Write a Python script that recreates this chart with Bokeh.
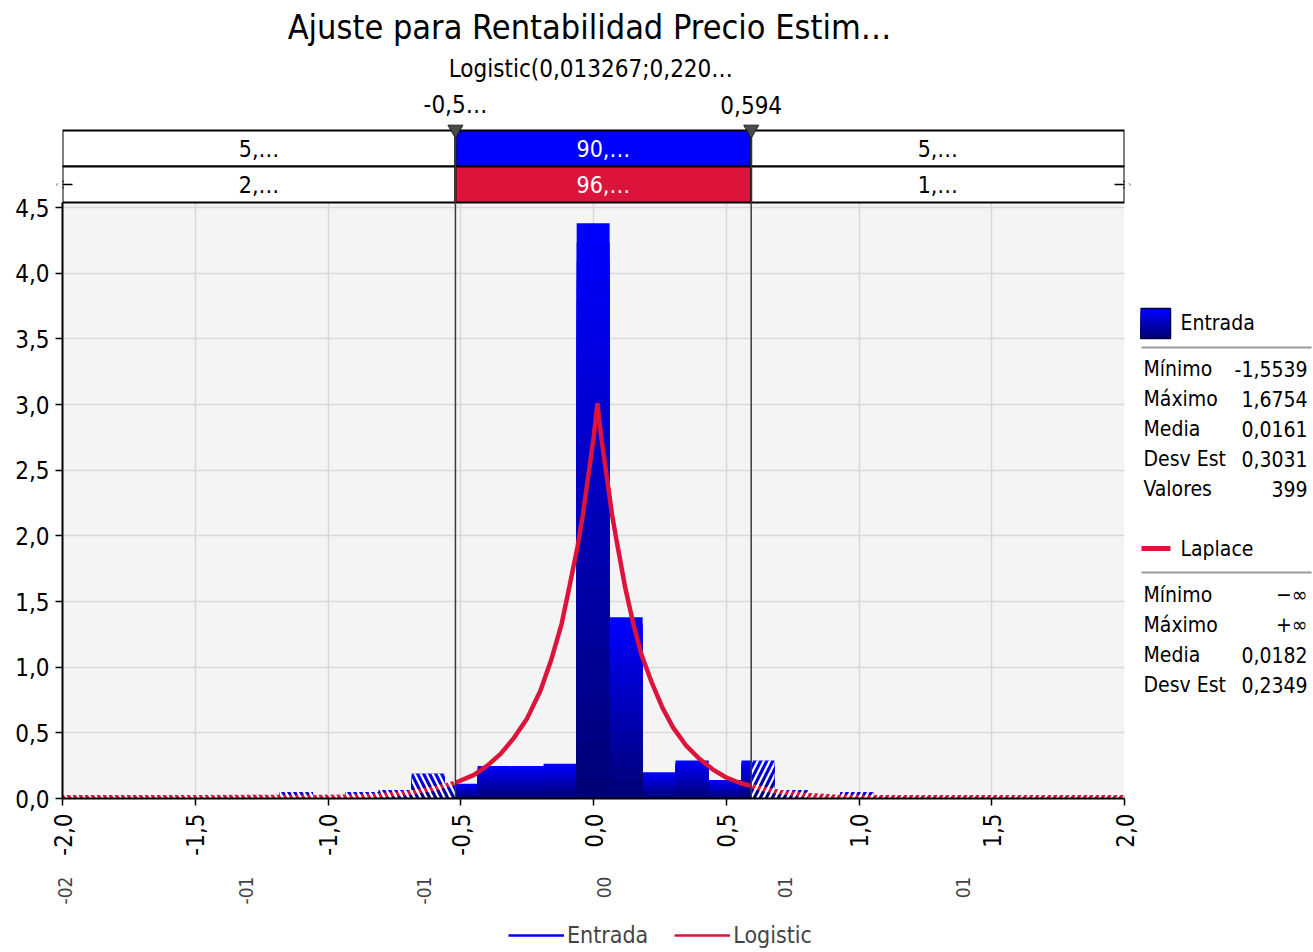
import math
from bokeh.plotting import figure
from bokeh.models import Range1d, FixedTicker, Legend, LegendItem, LinearAxis, Arrow, OpenHead
from bokeh.layouts import row, column
from bokeh.embed import file_html
from bokeh.resources import INLINE
from bokeh.core.properties import value

FONT = "DejaVu Sans Condensed, DejaVu Sans"

# ---------------- data ----------------
title_text = "Ajuste para Rentabilidad Precio Estim…"
subtitle_text = "Logistic(0,013267;0,220…"

bin_start = -1.5539
bin_width = 0.12421
density = [0.02, 0.0, 0.0, 0.05, 0.0, 0.05, 0.065, 0.19, 0.113, 0.248, 0.248, 0.265,
           4.38, 1.38, 0.20, 0.29, 0.14, 0.29, 0.065, 0.0, 0.05, 0.0, 0.0, 0.0, 0.0, 0.02]

curve_x = [-2.0, -1.5, -1.0, -0.9, -0.8, -0.7, -0.6, -0.52, -0.45, -0.4, -0.35, -0.3, -0.25,
           -0.2, -0.16, -0.12, -0.09, -0.06, -0.04, -0.02, 0.0, 0.015, 0.03, 0.05, 0.07, 0.09,
           0.12, 0.15, 0.18, 0.22, 0.26, 0.30, 0.35, 0.40, 0.45, 0.50, 0.55, 0.594, 0.65, 0.70,
           0.80, 0.90, 1.0, 1.5, 2.0]
curve_y = [0.01, 0.01, 0.012, 0.015, 0.025, 0.042, 0.075, 0.12, 0.18, 0.25, 0.34, 0.46, 0.61,
           0.82, 1.05, 1.33, 1.62, 1.92, 2.16, 2.45, 2.74, 3.01, 2.74, 2.45, 2.16, 1.93,
           1.6, 1.33, 1.1, 0.88, 0.69, 0.54, 0.40, 0.30, 0.22, 0.16, 0.12, 0.095, 0.068, 0.05,
           0.027, 0.016, 0.012, 0.01, 0.01]

cut_lo = -0.52
cut_hi = 0.594
cut_labels = ["-0,5…", "0,594"]
band_input = ["5,…", "90,…", "5,…"]
band_fit = ["2,…", "96,…", "1,…"]

x_ticks = [-2.0, -1.5, -1.0, -0.5, 0.0, 0.5, 1.0, 1.5, 2.0]
x_tick_labels = ["-2,0", "-1,5", "-1,0", "-0,5", "0,0", "0,5", "1,0", "1,5", "2,0"]
y_ticks = [0.0, 0.5, 1.0, 1.5, 2.0, 2.5, 3.0, 3.5, 4.0, 4.5]
y_tick_labels = ["0,0", "0,5", "1,0", "1,5", "2,0", "2,5", "3,0", "3,5", "4,0", "4,5"]
sec_ticks = [-1.99, -1.31, -0.64, 0.04, 0.72, 1.39]
sec_labels = ["-02", "-01", "-01", "00", "01", "01"]

entrada_labels = ["Mínimo", "Máximo", "Media", "Desv Est", "Valores"]
entrada_values = ["-1,5539", "1,6754", "0,0161", "0,3031", "399"]
laplace_labels = ["Mínimo", "Máximo", "Media", "Desv Est"]
laplace_values = ["−∞", "+∞", "0,0182", "0,2349"]

BLUE = "#0000FF"
RED = "#DC143C"

# ---------------- layout constants (pixels) ----------------
W_MAIN, H_TOTAL = 1140, 952
H_LEG = 42
H_MAIN = H_TOTAL - H_LEG
FRAME_BOTTOM = 798
PX_45 = 207                 # pixel row of y = 4.5
BAND_TOP, ROW_H = 130, 36
PLOT_TOP = BAND_TOP + 2 * ROW_H
px_per_unit = (FRAME_BOTTOM - PX_45) / 4.5
y_top = FRAME_BOTTOM / px_per_unit
y_plot_top = (FRAME_BOTTOM - PLOT_TOP) / px_per_unit

p = figure(width=W_MAIN, height=H_MAIN, x_range=Range1d(-2, 2), y_range=Range1d(0, y_top),
           output_backend="svg", toolbar_location=None,
           min_border_left=62, min_border_right=W_MAIN - 1124, min_border_top=0,
           min_border_bottom=H_MAIN - FRAME_BOTTOM)
p.extra_y_ranges = {"px": Range1d(FRAME_BOTTOM, 0)}
p.outline_line_color = None
p.background_fill_color = "white"
p.border_fill_color = "white"

# plot background
p.quad(left=-2, right=2, bottom=FRAME_BOTTOM, top=PLOT_TOP, y_range_name="px",
       fill_color="#F4F4F4", line_color=None, level="image")

# grid
p.xgrid.ticker = FixedTicker(ticks=x_ticks)
p.ygrid.ticker = FixedTicker(ticks=y_ticks)
p.grid.grid_line_color = "#D8D8D8"
p.grid.grid_line_width = 1.5

# cover grid above the plot area
p.quad(left=-2, right=2, bottom=PLOT_TOP, top=0, y_range_name="px",
       fill_color="white", line_color=None)

# histogram with vertical gradient
edges = [bin_start + i * bin_width for i in range(len(density) + 1)]
n_steps = 30
top_c, bot_c = (0, 0, 255), (0, 0, 118)
L, R, T, C = [], [], [], []
for j in range(n_steps):
    frac = 1 - j / n_steps
    t = j / (n_steps - 1)
    col = "#%02x%02x%02x" % tuple(int(round(a + (b - a) * t)) for a, b in zip(top_c, bot_c))
    for i, h in enumerate(density):
        if h <= 0:
            continue
        L.append(edges[i]); R.append(edges[i + 1]); T.append(h * frac); C.append(col)
p.quad(left=L, right=R, bottom=0, top=T, fill_color=C, line_color=None)

# fitted curve
r_curve = p.line(curve_x, curve_y, color=RED, line_width=4.5)

# hatching of the tails (bars outside the cut-offs and the curve there)
hatch = dict(fill_alpha=0, hatch_color="white", hatch_weight=2.2, hatch_scale=12)
for lo, hi, pat in ((-2, cut_lo, "left_diagonal_line"), (cut_hi, 2, "right_diagonal_line")):
    hl, hr, ht = [], [], []
    for i, h in enumerate(density):
        a, b_ = max(edges[i], lo), min(edges[i + 1], hi)
        if h > 0 and b_ > a:
            hl.append(a); hr.append(b_); ht.append(h)
    if hl:
        p.quad(left=hl, right=hr, bottom=0, top=ht, hatch_pattern=pat, line_color=None, **hatch)
    tx = [x for x in curve_x if lo <= x <= hi]
    ty = [y for x, y in zip(curve_x, curve_y) if lo <= x <= hi]
    p.varea(x=tx, y1=[y - 0.02 for y in ty], y2=[y + 0.02 for y in ty],
            hatch_pattern=pat, **hatch)

# band rows
b_left = [-2, cut_lo, cut_hi]
b_right = [cut_lo, cut_hi, 2]
p.quad(left=b_left, right=b_right, top=BAND_TOP, bottom=BAND_TOP + ROW_H, y_range_name="px",
       fill_color=["white", BLUE, "white"], line_color="black", line_width=2)
p.quad(left=b_left, right=b_right, top=BAND_TOP + ROW_H, bottom=PLOT_TOP, y_range_name="px",
       fill_color=["white", RED, "white"], line_color="black", line_width=2)
mids = [(a + b) / 2 for a, b in zip(b_left, b_right)]
p.text(x=mids, y=[BAND_TOP + ROW_H / 2] * 3, text=band_input, y_range_name="px",
       text_color=["black", "white", "black"], text_font=value(FONT), text_font_size="23px",
       text_align="center", text_baseline="middle")
p.text(x=mids, y=[BAND_TOP + 1.5 * ROW_H] * 3, text=band_fit, y_range_name="px",
       text_color=["black", "white", "black"], text_font=value(FONT), text_font_size="23px",
       text_align="center", text_baseline="middle")

# small open arrows at the ends of the fitted row
row2_mid = BAND_TOP + 1.5 * ROW_H
stub = 10 / ((1124 - 62) / 4)
for x_from, x_to in ((-2 + stub, -2 - 0.6 * stub), (2 - stub, 2 + 0.6 * stub)):
    p.add_layout(Arrow(x_start=x_from, x_end=x_to, y_start=row2_mid, y_end=row2_mid,
                       y_range_name="px", line_color="black", line_width=1.5,
                       end=OpenHead(size=7, line_color="black", line_width=1.5)))

# cutoff lines and markers
cuts = [cut_lo, cut_hi]
p.segment(x0=cuts, x1=cuts, y0=[BAND_TOP] * 2, y1=[FRAME_BOTTOM] * 2, y_range_name="px",
          line_color="#3A3A3A", line_width=1.5)
p.scatter(x=cuts, y=[BAND_TOP - 1] * 2, y_range_name="px", marker="inverted_triangle",
          size=15, fill_color="#4A4A4A", line_color="#202020")
p.text(x=cuts, y=[104] * 2, text=cut_labels, y_range_name="px", text_font=value(FONT),
       text_font_size="24px", text_align="center", text_baseline="middle", text_color="black")

# titles
p.text(x=[-0.015], y=[26], text=[title_text], y_range_name="px", text_font=value(FONT),
       text_font_size="34px", text_align="center", text_baseline="middle", text_color="black")
p.text(x=[-0.01], y=[68], text=[subtitle_text], y_range_name="px", text_font=value(FONT),
       text_font_size="24px", text_align="center", text_baseline="middle", text_color="black")

# axes
p.yaxis.ticker = FixedTicker(ticks=y_ticks)
p.yaxis.major_label_overrides = dict(zip(y_ticks, y_tick_labels))
p.yaxis.bounds = (0, y_plot_top)
p.xaxis.ticker = FixedTicker(ticks=x_ticks)
p.xaxis.major_label_overrides = dict(zip(x_ticks, x_tick_labels))
p.xaxis.major_label_orientation = math.pi / 2
for ax in (p.xaxis, p.yaxis):
    ax.axis_line_color = "black"
    ax.axis_line_width = 2
    ax.major_tick_line_color = "black"
    ax.major_tick_line_width = 1.5
    ax.major_tick_out = 7
    ax.major_tick_in = 0
    ax.minor_tick_line_color = None
    ax.major_label_text_font = FONT
    ax.major_label_text_font_size = "24px"
    ax.major_label_text_color = "black"
p.yaxis.major_label_standoff = 6
p.xaxis.major_label_standoff = 8

ax2 = LinearAxis(ticker=FixedTicker(ticks=sec_ticks),
                 major_label_overrides=dict(zip(sec_ticks, sec_labels)),
                 major_label_orientation=math.pi / 2, axis_line_color=None,
                 major_tick_line_color=None, minor_tick_line_color=None,
                 major_label_text_font=FONT, major_label_text_font_size="19px",
                 major_label_standoff=12)
p.add_layout(ax2, "below")

# ---------------- side stats panel ----------------
s = figure(width=1313 - W_MAIN, height=H_MAIN, x_range=Range1d(W_MAIN, 1313),
           y_range=Range1d(FRAME_BOTTOM, 0),
           output_backend="svg", toolbar_location=None, min_border_left=0, min_border_right=0,
           min_border_top=0, min_border_bottom=H_MAIN - FRAME_BOTTOM,
           x_axis_location=None, y_axis_location=None)
s.outline_line_color = None
s.grid.visible = False

sq_n = 12
for j in range(sq_n):
    t = j / (sq_n - 1)
    col = "#%02x%02x%02x" % (0, 0, int(round(255 + (118 - 255) * t)))
    s.quad(left=1140, right=1170, top=308 + 30 * j / sq_n, bottom=338, fill_color=col, line_color=None)
s.quad(left=1140, right=1170, top=308, bottom=338, fill_alpha=0, line_color="#000040", line_width=1.5)
s.text(x=[1180], y=[322], text=["Entrada"], text_font=value(FONT), text_font_size="21px",
       text_baseline="middle", text_color="black")
s.segment(x0=[1141, 1141], x1=[1311, 1311], y0=[347, 572], y1=[347, 572],
          line_color="#9A9A9A", line_width=2)
ey = [368 + 30 * i for i in range(len(entrada_labels))]
s.text(x=[1143] * len(ey), y=ey, text=entrada_labels, text_font=value(FONT),
       text_font_size="21px", text_baseline="middle", text_color="black")
s.text(x=[1307] * len(ey), y=ey, text=entrada_values, text_font=value(FONT),
       text_font_size="21px", text_baseline="middle", text_align="right", text_color="black")
s.segment(x0=[1141], x1=[1170], y0=[548], y1=[548], line_color=RED, line_width=5)
s.text(x=[1180], y=[548], text=["Laplace"], text_font=value(FONT), text_font_size="21px",
       text_baseline="middle", text_color="black")
ly = [594 + 30 * i for i in range(len(laplace_labels))]
s.text(x=[1143] * len(ly), y=ly, text=laplace_labels, text_font=value(FONT),
       text_font_size="21px", text_baseline="middle", text_color="black")
s.text(x=[1307] * len(ly), y=ly, text=laplace_values, text_font=value(FONT),
       text_font_size="21px", text_baseline="middle", text_align="right", text_color="black")

# ---------------- bottom legend ----------------
b = figure(width=1313, height=H_LEG, x_range=Range1d(0, 1313), y_range=Range1d(0, H_LEG),
           output_backend="svg", toolbar_location=None, min_border=0,
           x_axis_location=None, y_axis_location=None)
b.outline_line_color = None
b.grid.visible = False
r_in = b.line([-20, -10], [-20, -20], color=BLUE, line_width=2.5)
r_fit = b.line([-20, -10], [-20, -20], color=RED, line_width=2.5)
legend = Legend(items=[LegendItem(label="Entrada", renderers=[r_in]),
                       LegendItem(label="Logistic", renderers=[r_fit])],
                orientation="horizontal", location=(508, 4), border_line_color=None,
                background_fill_alpha=0, label_text_font=FONT, label_text_font_size="23px",
                glyph_width=56, label_standoff=3, spacing=26, padding=0, margin=0)
b.add_layout(legend)

layout = column(row(p, s), b)
open("out.html", "w").write(file_html(layout, INLINE))
